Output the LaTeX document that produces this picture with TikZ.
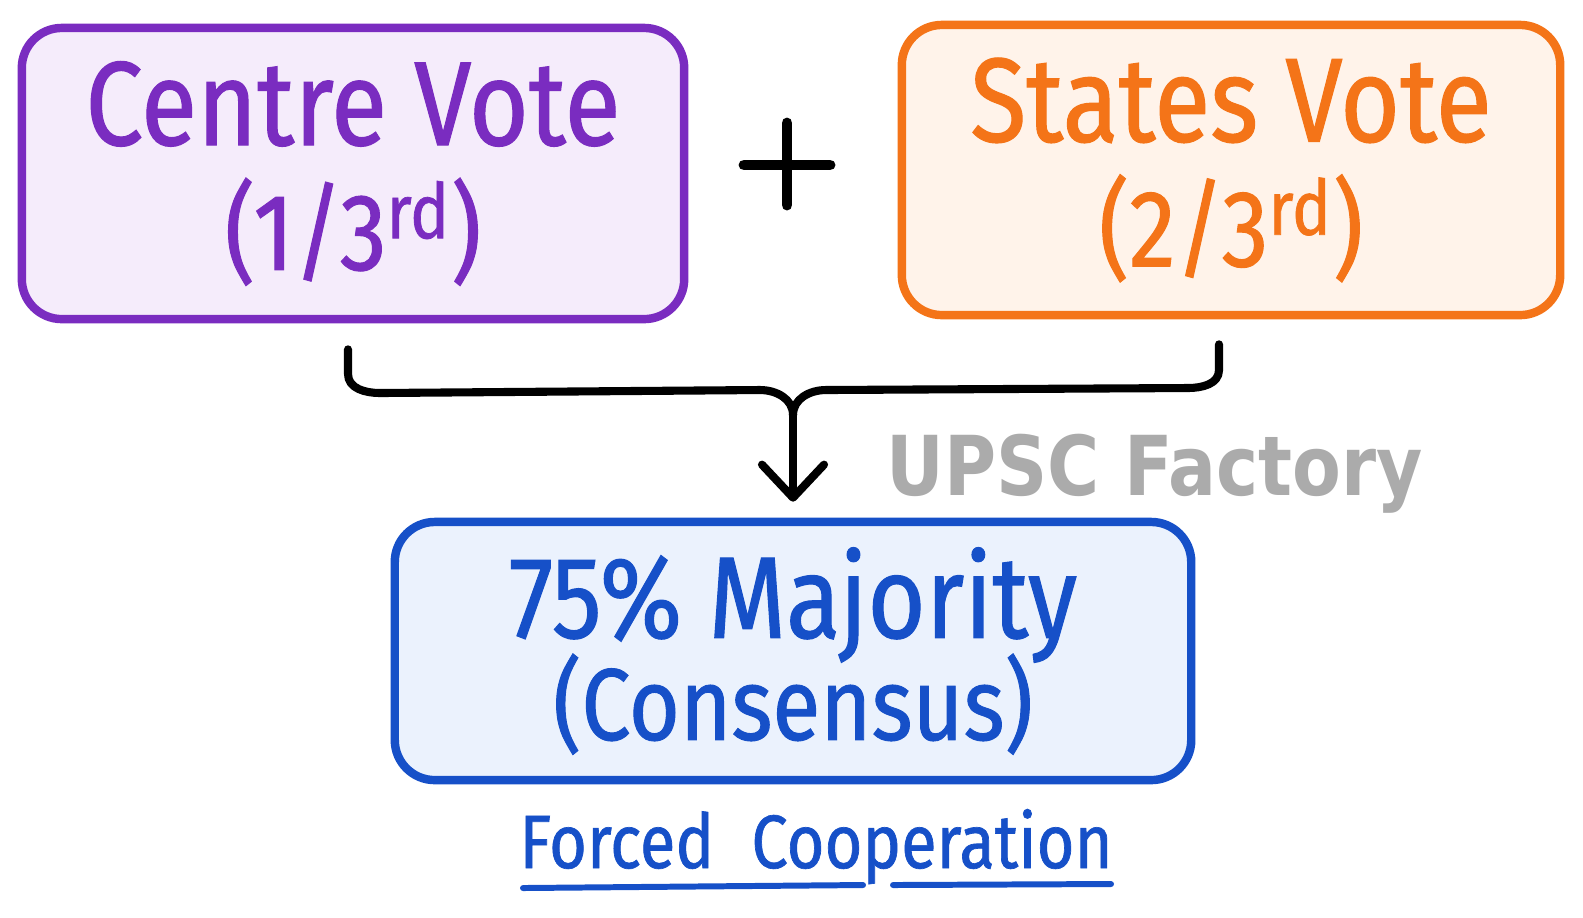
\documentclass[tikz,border=0pt]{standalone}
\usepackage{fontspec}
\setmainfont{Fira Sans}[FakeStretch=0.86, FakeBold=0.9]
\newfontfamily\markfont{DejaVu Sans}[FakeStretch=0.86]
\usepackage{tikz}
\usetikzlibrary{arrows.meta, positioning}

\definecolor{centreline}{HTML}{7A2CC0}
\definecolor{centrefill}{HTML}{F5ECFB}
\definecolor{stateline}{HTML}{F47418}
\definecolor{statefill}{HTML}{FFF3EA}
\definecolor{majline}{HTML}{1650C8}
\definecolor{majfill}{HTML}{EBF2FD}
\definecolor{markgray}{HTML}{ABABAB}

\newcommand{\tightlines}{\lineskiplimit=-1cm\relax}
\newcommand{\subline}[2]{{\fontsize{#1}{#1}\selectfont #2}}

\tikzset{
    votebox/.style={draw, line width=2.4pt, rounded corners=0.4cm, align=center},
    brace/.style={draw=black, line width=2.3pt, line cap=round, line join=round},
}

\begin{document}
\begin{tikzpicture}[x=0.01cm, y=-0.01cm]
            \useasboundingbox (0,0) rectangle (1583,917);

            \node[votebox, draw=centreline, fill=centrefill, text=centreline,
                  minimum width=6.62cm, minimum height=2.91cm,
                  font={\fontsize{34}{35.5}\selectfont\tightlines}] (centre) at (353,173.5)
                  {Centre Vote\\\subline{31}{(1/3\textsuperscript{rd})}};

            \node[votebox, draw=stateline, fill=statefill, text=stateline,
                  minimum width=6.58cm, minimum height=2.90cm,
                  font={\fontsize{34}{35.5}\selectfont\tightlines}] (states) at (1231,170)
                  {States Vote\\\subline{31}{(2/3\textsuperscript{rd})}};

            \node[votebox, draw=majline, fill=majfill, text=majline,
                  minimum width=7.96cm, minimum height=2.58cm,
                  font={\fontsize{33}{29}\selectfont\tightlines}] (major) at (793,651)
                  {75\% Majority\\\subline{29}{(Consensus)}};

            % plus sign between the two votes
            \coordinate (plus) at (787,165);
            \draw[line width=3.1pt, line cap=round] ([xshift=-0.43cm]plus) -- ([xshift=0.43cm]plus);
            \draw[line width=3.1pt, line cap=round] ([yshift=0.42cm]plus) -- ([yshift=-0.40cm]plus);

            % brace joining both votes
            \coordinate[below=0.26cm of centre.south, xshift=-0.05cm] (lt);
            \coordinate[below=0.25cm of states.south, xshift=-0.12cm] (rt);
            \coordinate (jn) at (793,415);
            \draw[brace] (lt) -- (348,374) to[out=-90, in=180] (380,393)
                -- (760,390) to[out=0, in=90] (jn);
            \draw[brace] (rt) -- (1219,370) to[out=-90, in=0] (1188,388)
                -- (826,390) to[out=180, in=90] (jn);
            \draw[brace, -{Straight Barb[length=3.3mm, width=6.2mm, round]}]
                (jn) -- ([yshift=0.16cm]major.north);

            \node[anchor=base west, text=markgray, font=\markfont\bfseries\fontsize{23.5}{24}\selectfont]
                (mark) at (874,495) {UPSC Factory};

            \node[anchor=base, text=majline, font=\fontsize{21.5}{22}\selectfont]
                (note) at (816,868) {Forced\hspace{0.2cm} Cooperation};
            \draw[majline, line width=1.7pt, line cap=round] (523,888) -- (863,885);
            \draw[majline, line width=1.7pt, line cap=round] (893,885) -- (1111,884);
\end{tikzpicture}
\end{document}
